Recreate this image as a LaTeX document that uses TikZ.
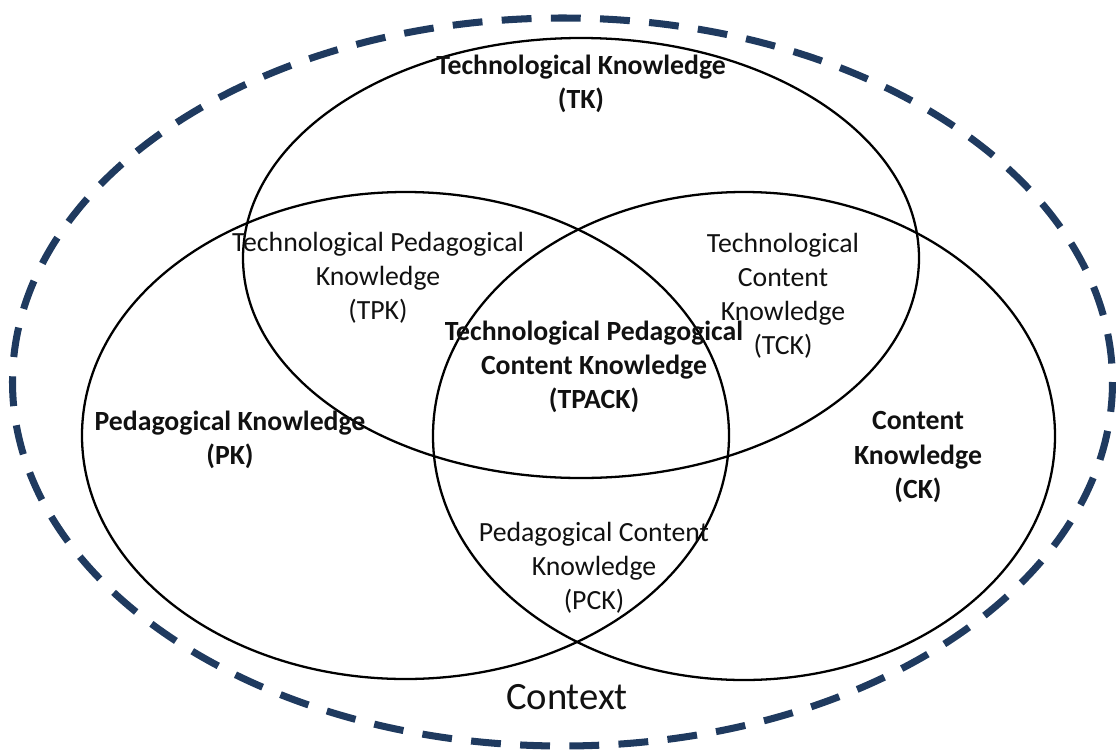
\documentclass[tikz,border=0pt]{standalone}
\usepackage{fontspec}
\setmainfont{Carlito}
\usepackage{xcolor}
\usepackage{tikz}
\usetikzlibrary{positioning}
\definecolor{contextblue}{HTML}{1F3A5F}
\definecolor{textblack}{HTML}{111111}
\newcommand{\labelsize}{\fontsize{15.8}{19.4}\selectfont}
\tikzset{
    domainring/.style={
        draw=black,
        line width=1.3pt
    },
    contextring/.style={
        draw=contextblue,
        line width=4pt,
        dash pattern=on 17pt off 11pt
    },
    domainlabel/.style={
        align=center,
        inner sep=0pt,
        text=textblack,
        font=\bfseries\labelsize
    },
    overlaplabel/.style={
        align=center,
        inner sep=0pt,
        text=textblack,
        font=\labelsize
    }
}

\begin{document}
\begin{tikzpicture}[x=0.02cm, y=-0.02cm]
    \useasboundingbox (0,0) rectangle (1116,751);

    % context and the three knowledge domains
    \draw[contextring] (562.5,382) ellipse [x radius=550, y radius=364];
    \draw[domainring] (581,258) ellipse [x radius=338, y radius=220];
    \draw[domainring] (405.5,435.5) ellipse [x radius=323.5, y radius=243.5];
    \draw[domainring] (744,436) ellipse [x radius=311, y radius=244];

    % labels
    \node[domainlabel] (tk) at (581,84) {Technological Knowledge\\(TK)};
    \node[domainlabel] (pk) at (230,440) {Pedagogical Knowledge\\(PK)};
    \node[domainlabel] (ck) at (918,457) {Content\\Knowledge\\(CK)};
    \node[overlaplabel] (tpk) at (378,278) {Technological Pedagogical\\Knowledge\\(TPK)};
    \node[overlaplabel] (tck) at (783,296) {Technological\\Content\\Knowledge\\(TCK)};
    \node[overlaplabel] (pck) at (594,568) {Pedagogical Content\\Knowledge\\(PCK)};
    \node[domainlabel] (tpack) at (594,367) {Technological Pedagogical\\Content Knowledge\\(TPACK)};
    \node[text=textblack, inner sep=0pt, font=\fontsize{22}{26}\selectfont] (context) at (567,697) {Context};
\end{tikzpicture}
\end{document}
